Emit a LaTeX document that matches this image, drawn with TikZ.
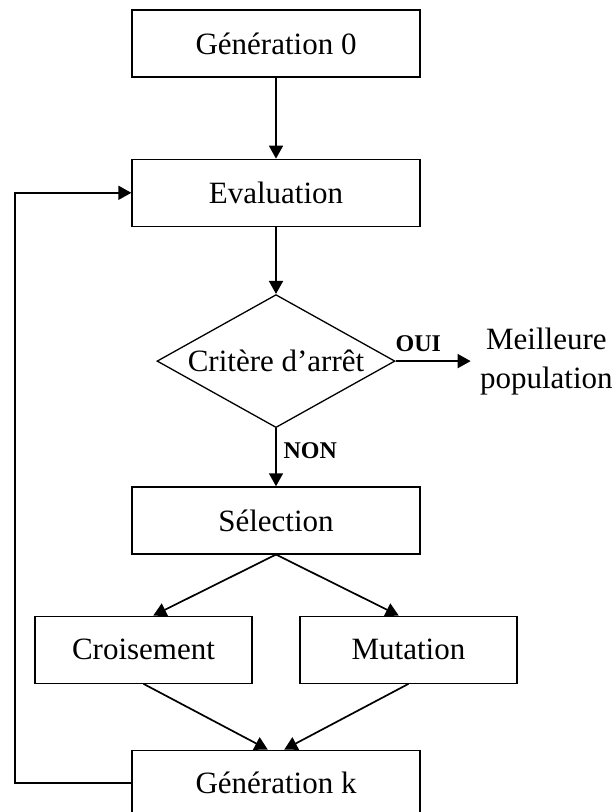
\documentclass[tikz,border=0pt]{standalone}
\usepackage{fontspec}
\setmainfont{Liberation Serif}
\usepackage{tikz}
\usetikzlibrary{positioning, shapes.geometric, arrows.meta}

\begin{document}
\begin{tikzpicture}[
    x=0.5pt, y=-0.5pt,
    block/.style={rectangle, draw=black, line width=0.65pt, font=\fontsize{15.5}{19.5}\selectfont, align=center, minimum width=144pt, minimum height=33.5pt, inner sep=0pt},
    test/.style={diamond, draw=black, line width=0.65pt, font=\fontsize{15.5}{19.5}\selectfont, aspect=1.79, minimum width=119pt, minimum height=66.5pt, inner sep=0pt},
    answer/.style={font=\fontsize{12}{14}\selectfont\bfseries},
    arrow/.style={-{Triangle[length=6.5pt, width=7pt]}, line width=0.85pt}
]
\useasboundingbox (0,0) rectangle (614,812);

\node[block] (gen0) at (276,43.5) {Génération 0};
\node[block, below=40.5pt of gen0] (eval) {Evaluation};
\node[test, below=33.5pt of eval] (stop) {Critère d’arrêt};
\node[font=\fontsize{15.5}{19.5}\selectfont, align=center, inner sep=0pt, right=42pt of stop] (best) {Meilleure\\population};
\node[block, below=29pt of stop] (sel) {Sélection};
\node[block, minimum width=108.5pt, below=30.5pt of sel, xshift=-66.25pt] (cross) {Croisement};
\node[block, minimum width=108.5pt, below=30.5pt of sel, xshift=66.25pt] (mut) {Mutation};
\node[block, minimum height=32.5pt, below=97.5pt of sel] (genk) {Génération k};
\coordinate (loop) at (15,0);

\draw[arrow] (gen0) -- (eval);
\draw[arrow] (eval) -- (stop);
\draw[arrow, shorten >=4.5pt] (stop.east) -- node[answer, pos=0.27, above=1pt] {OUI} (best.west);
\draw[arrow] (stop) -- node[answer, pos=0.38, right] {NON} (sel);
\draw[arrow] (sel.south) -- (cross.74);
\draw[arrow] (sel.south) -- (mut.106);
\draw[arrow] (cross.south) -- (genk.104);
\draw[arrow] (mut.south) -- (genk.76);
\draw[arrow] (genk.west) -- (genk.west -| loop) |- (eval.west);

\end{tikzpicture}
\end{document}
